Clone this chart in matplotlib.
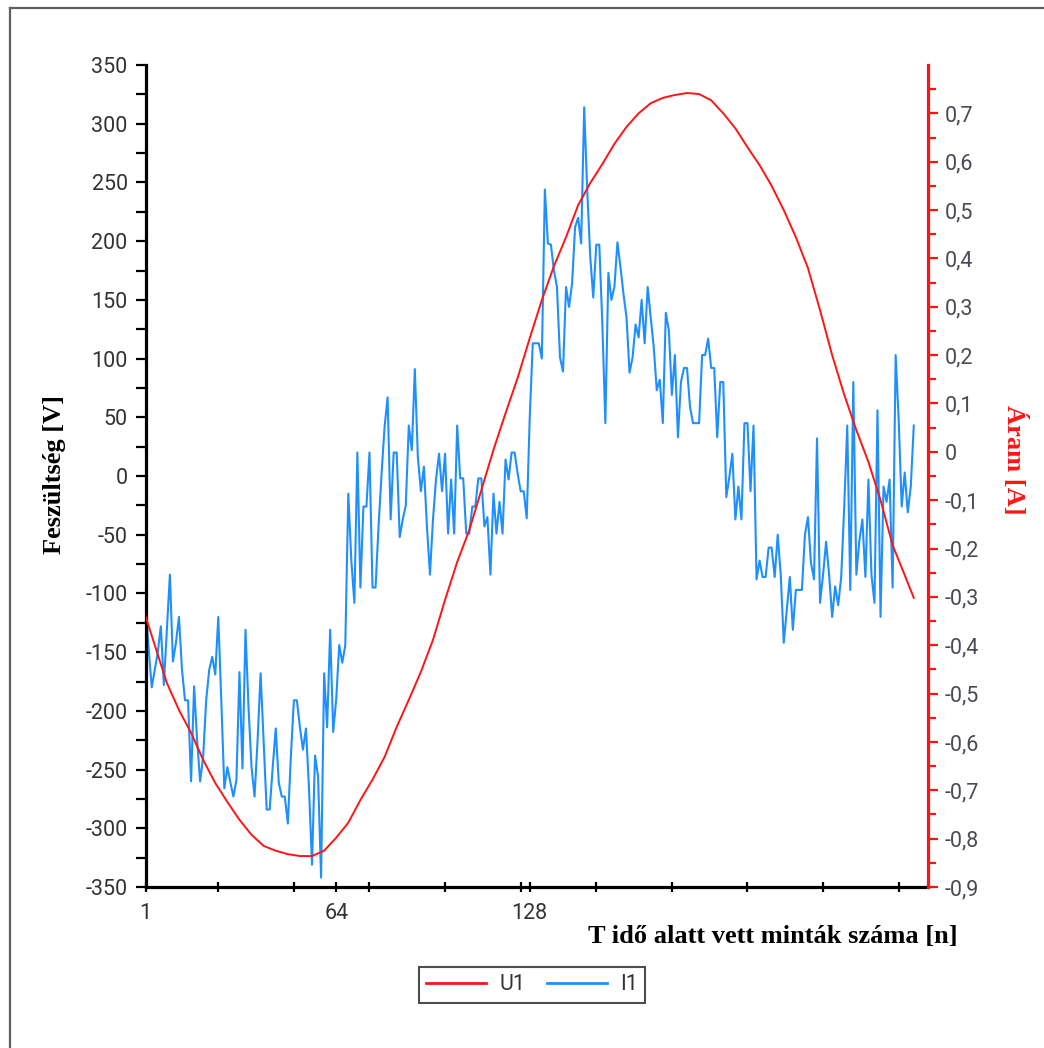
import numpy as np
import matplotlib
matplotlib.use("Agg")
import matplotlib.pyplot as plt
from matplotlib.lines import Line2D
from matplotlib.ticker import FixedLocator, FuncFormatter

plt.rcParams["axes.unicode_minus"] = False

# I1 (blue) samples, 0..255, read in volt units of the left axis
I1 = [9, -111, -148, -180, -165, -150, -128, -178, -131, -84,
      -158, -142, -120, -165, -191, -191, -260, -179, -225, -260,
      -239, -191, -165, -154, -169, -120, -191, -266, -248, -261,
      -273, -259, -167, -249, -131, -197, -248, -273, -225, -168,
      -225, -284, -284, -248, -215, -261, -273, -273, -296, -239,
      -191, -191, -214, -233, -215, -266, -331, -238, -256, -342,
      -168, -214, -131, -218, -190, -144, -159, -144, -15, -72,
      -108, 20, -95, -26, -26, 20, -95, -95, -43, 2,
      42, 67, -37, 20, 20, -52, -37, -25, 43, 22,
      91, 16, -13, 8, -43, -84, -37, -3, 19, -13,
      19, -49, -3, -49, 43, -2, -2, -49, -49, -26,
      -26, -2, -2, -43, -35, -84, -15, -49, -22, -49,
      14, -3, 20, 20, 2, -13, -13, -36, 50, 113,
      113, 113, 100, 244, 198, 197, 175, 161, 101, 89,
      161, 144, 164, 212, 220, 198, 314, 244, 187, 152,
      197, 197, 130, 45, 173, 150, 161, 199, 178, 155,
      135, 88, 101, 129, 118, 150, 113, 161, 135, 110,
      73, 82, 45, 139, 124, 69, 103, 33, 80, 92,
      92, 59, 45, 45, 45, 103, 103, 117, 92, 92,
      33, 80, 80, -18, -1, 19, -37, -9, -37, 45,
      45, -13, 43, -88, -72, -86, -86, -61, -61, -86,
      -50, -84, -142, -114, -86, -131, -97, -97, -97, -50,
      -35, -74, -88, 32, -108, -84, -56, -84, -120, -94,
      -110, -86, -26, 43, -97, 80, -84, -55, -37, -86,
      -3, -84, -108, 56, -120, -9, -22, -3, -95, 103,
      48, -26, 3, -31, -9, 43]

# U1 (red), read on the right axis every 4th sample
U1_n = [0, 4, 8, 12, 16, 20, 24, 28, 32, 36, 40, 44, 48, 52, 56, 60, 64,
        68, 72, 76, 80, 84, 88, 92, 96, 100, 104, 108, 112, 116, 120, 124,
        128, 132, 136, 140, 144, 148, 152, 156, 160, 164, 168, 172, 176,
        180, 184, 188, 192, 196, 200, 204, 208, 212, 216, 220, 224, 228,
        232, 236, 240, 244, 248, 252, 255]
U1 = [-0.321, -0.400, -0.478, -0.534, -0.581, -0.637, -0.685, -0.724,
      -0.761, -0.792, -0.815, -0.825, -0.832, -0.836, -0.836, -0.825,
      -0.798, -0.767, -0.720, -0.678, -0.631, -0.569, -0.513, -0.455,
      -0.389, -0.306, -0.228, -0.162, -0.079, 0.004, 0.080, 0.153,
      0.235, 0.314, 0.384, 0.444, 0.510, 0.556, 0.595, 0.637, 0.672,
      0.700, 0.721, 0.732, 0.738, 0.742, 0.740, 0.727, 0.700, 0.669,
      0.630, 0.593, 0.550, 0.500, 0.444, 0.380, 0.293, 0.200, 0.118,
      0.045, -0.021, -0.100, -0.193, -0.255, -0.302]

X_LABELED = [1, 64, 128]
X_PLAIN = [25, 50, 75, 100, 125, 150, 175, 200, 225, 250]
V_TICKS = list(range(-350, 351, 50))
A_TICKS = [round(-0.9 + 0.1 * k, 1) for k in range(17)]

RED = "#ff1414"
BLUE = "#1f8fff"
TICK_FONT = dict(family="Roboto", size=15.5)
LABEL_FONT = dict(family="Liberation Serif", size=19, weight="bold")

fig = plt.figure(figsize=(10.44, 10.48), dpi=100)
ax = fig.add_axes([145.7 / 1044, 1 - 887 / 1048, (928 - 145.7) / 1044, 822 / 1048])
ax2 = ax.twinx()

n = np.arange(len(I1))
ax.plot(n, I1, color=BLUE, lw=1.5, label="I1", zorder=2)
ax2.plot(U1_n, U1, color=RED, lw=1.4, label="U1", zorder=3)

ax.set_xlim(1, 259.7)
ax.set_ylim(-350, 350)
ax2.set_ylim(-0.9, 0.8)

# x axis: labels only on 1, 64, 128
ax.xaxis.set_major_locator(FixedLocator(X_LABELED))
ax.xaxis.set_minor_locator(FixedLocator(X_PLAIN))
ax.set_xticklabels([str(v) for v in X_LABELED], **TICK_FONT, color="#333333")
ax.tick_params(axis="x", which="both", direction="inout", length=7, width=1.6,
               pad=8)

ax.yaxis.set_major_locator(FixedLocator(V_TICKS))
ax.yaxis.set_minor_locator(FixedLocator([v + 25 for v in V_TICKS[:-1]]))
ax.set_yticklabels([str(v) for v in V_TICKS], **TICK_FONT, color="#333333")
ax.tick_params(axis="y", which="both", direction="out", length=7, width=1.6,
               pad=6)

ax2.yaxis.set_major_locator(FixedLocator(A_TICKS))
ax2.yaxis.set_minor_locator(FixedLocator([a + 0.05 for a in A_TICKS]))
ax2.set_yticklabels([("%g" % a).replace(".", ",") for a in A_TICKS],
                    **TICK_FONT, color="#4a4a55")
ax2.tick_params(axis="y", which="major", direction="out", length=7, width=1.6,
                color=RED, pad=5)
ax2.tick_params(axis="y", which="minor", direction="out", length=5.5,
                width=1.6, color=RED)

for a in (ax, ax2):
    a.spines["top"].set_visible(False)
ax.spines["right"].set_visible(False)
ax2.spines["left"].set_visible(False)
ax2.spines["bottom"].set_visible(False)
ax.spines["left"].set_linewidth(2.3)
ax.spines["bottom"].set_linewidth(2.3)
ax2.spines["right"].set_linewidth(2.3)
ax2.spines["right"].set_color(RED)

fig.text(55 / 1044, 1 - 475 / 1048, "Feszültség [V]", rotation=90,
         ha="center", va="center", **LABEL_FONT)
fig.text(1015 / 1044, 1 - 460 / 1048, "Áram [A]", rotation=-90,
         ha="center", va="center", color=RED, **LABEL_FONT)
fig.text(958 / 1044, 1 - 937 / 1048, "T idő alatt vett minták száma [n]",
         ha="right", va="center", **LABEL_FONT)

handles = [Line2D([], [], color=RED, lw=2), Line2D([], [], color=BLUE, lw=2)]
leg = fig.legend(handles, ["U1", "I1"], loc="center",
                 bbox_to_anchor=(532 / 1044, 1 - 985 / 1048), ncol=2,
                 prop=dict(family="Roboto", size=15.5), fancybox=False,
                 edgecolor="#222222", handlelength=2.8, columnspacing=1.0,
                 borderpad=0.35, handletextpad=0.6)
leg.get_frame().set_linewidth(1.5)
for t in leg.get_texts():
    t.set_color("#333333")

# outer frame: left and top edges
fig.add_artist(Line2D([10 / 1044, 10 / 1044], [0, 1 - 8 / 1048],
                      color="#606060", lw=1.6))
fig.add_artist(Line2D([10 / 1044, 1], [1 - 8 / 1048, 1 - 8 / 1048],
                      color="#606060", lw=1.6))

fig.savefig("out.png", dpi=100)
